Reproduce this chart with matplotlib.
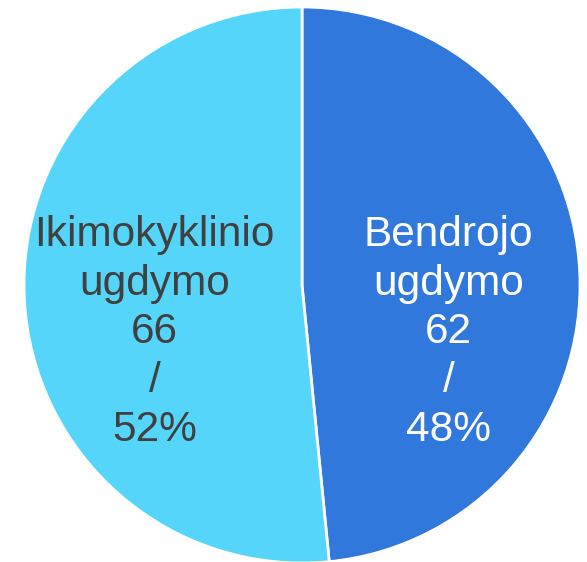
import matplotlib; matplotlib.use("Agg")
import matplotlib.pyplot as plt

kategorijos = ["Bendrojo\nugdymo", "Ikimokyklinio\nugdymo"]
reiksmes = [62, 66]
procentai = [48, 52]
spalvos = ["#3178DC", "#56D5FB"]
teksto_spalvos = ["white", "#404040"]

plt.rcParams["font.family"] = ["Liberation Sans", "DejaVu Sans"]

fig = plt.figure(figsize=(5.87, 5.62), dpi=100)
ax = fig.add_axes([0, 0, 1, 1])
wedges, _ = ax.pie(reiksmes, colors=spalvos, startangle=90, counterclock=False,
                   radius=1, wedgeprops={"edgecolor": "white", "linewidth": 2})
# etiketes vidury
poz = [(0.527, -0.17), (-0.53, -0.17)]
for (x, y), kat, v, p, c in zip(poz, kategorijos, reiksmes, procentai, teksto_spalvos):
    ax.text(x, y, f"{kat}\n{v}\n/\n{p}%", ha="center", va="center",
            fontsize=30.5, color=c, linespacing=1.28)

s = 278.0
ax.set_xlim(-302 / s, (587 - 302) / s)
ax.set_ylim(-277 / s, 285 / s)
ax.set_aspect("auto")
ax.axis("off")
fig.savefig("out.png", dpi=100)
